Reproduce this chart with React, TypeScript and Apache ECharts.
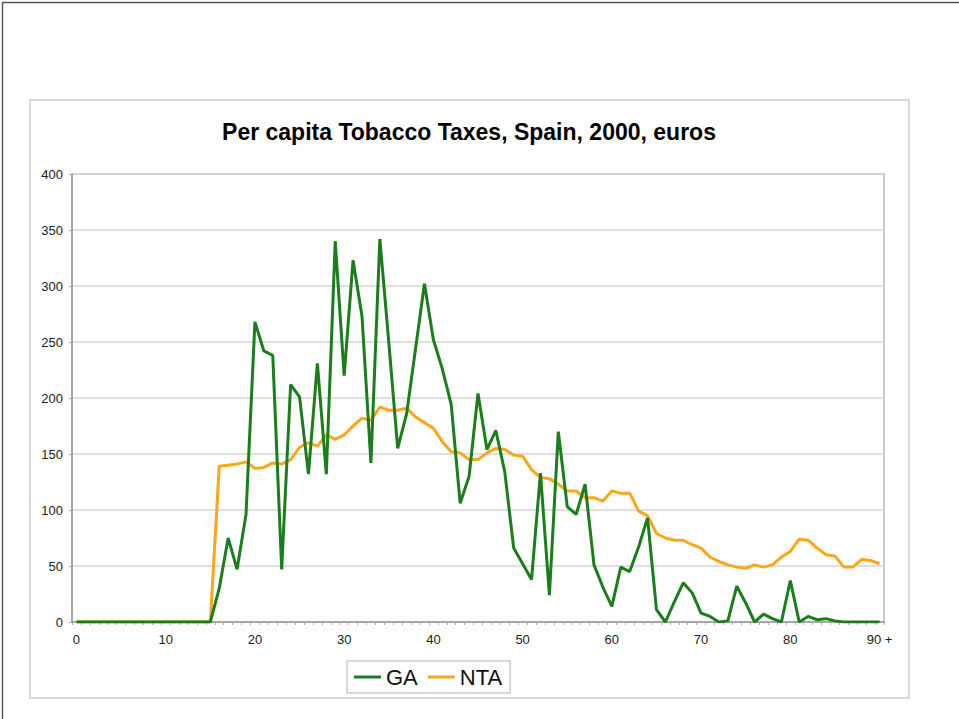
import React, { useEffect, useRef } from "react";
import * as echarts from "echarts";

const categories: string[] = Array.from({ length: 91 }, (_, i) => (i === 90 ? "90 +" : String(i)));

const gaValues: number[] = [
  0, 0, 0, 0, 0, 0, 0, 0, 0, 0,
  0, 0, 0, 0, 0, 0, 30, 75, 47, 96,
  268, 242, 238, 47, 212, 201, 132, 231, 132, 340,
  220, 323, 273, 142, 342, 250, 155, 186, 244, 302,
  252, 226, 194, 106, 130, 204, 154, 171, 134, 66,
  52, 38, 133, 24, 170, 103, 96, 123, 51, 31,
  14, 49, 45, 67, 93, 11, 0, 18, 35, 26,
  8, 5, 0, 1, 32, 17, 0, 7, 3, 0,
  37, 0, 5, 2, 3, 1, 0, 0, 0, 0,
  0,
];

const ntaValues: number[] = [
  0, 0, 0, 0, 0, 0, 0, 0, 0, 0,
  0, 0, 0, 0, 0, 0, 139, 140, 141, 143,
  137, 138, 142, 141, 145, 156, 160, 157, 167, 163,
  167, 175, 182, 180, 192, 189, 189, 191, 183, 178,
  173, 161, 152, 151, 145, 145, 151, 155, 154, 149,
  148, 136, 129, 128, 123, 117, 117, 111, 111, 108,
  117, 115, 115, 99, 95, 79, 75, 73, 73, 69,
  66, 58, 54, 51, 49, 48, 51, 49, 51, 58,
  63, 74, 73, 66, 60, 59, 49, 49, 56, 55,
  52,
];

const seriesNames = ["GA", "NTA"];
const titleText = "Per capita Tobacco Taxes, Spain, 2000, euros";
const FONT = "'Liberation Sans', Arial, Helvetica, sans-serif";

export default function App() {
  const ref = useRef<HTMLDivElement>(null);

  useEffect(() => {
    if (!ref.current) return;
    const chart = echarts.init(ref.current, null, { renderer: "svg" });
    chart.setOption({
      animation: false,
      backgroundColor: "#ffffff",
      textStyle: { fontFamily: FONT },
      graphic: [
        {
          type: "rect",
          z: -1,
          shape: { x: 30, y: 100, width: 879, height: 598 },
          style: { fill: "none", stroke: "#d9d9d9", lineWidth: 2 },
        },
        {
          type: "line",
          shape: { x1: 2, y1: 2.5, x2: 959, y2: 2.5 },
          style: { stroke: "#555555", lineWidth: 1.5 },
        },
        {
          type: "line",
          shape: { x1: 2.5, y1: 2, x2: 2.5, y2: 719 },
          style: { stroke: "#555555", lineWidth: 1.5 },
        },
        {
          type: "text",
          x: 469,
          y: 132,
          style: {
            text: titleText,
            fontFamily: FONT,
            fontSize: 23,
            fontWeight: "bold",
            fill: "#000000",
            align: "center",
            verticalAlign: "middle",
          },
        },
      ],
      legend: {
        data: seriesNames,
        left: 347,
        top: 661,
        orient: "horizontal",
        icon: "rect",
        itemWidth: 27,
        itemHeight: 3,
        itemGap: 10,
        padding: [5, 8, 5, 7],
        borderColor: "#cccccc",
        borderWidth: 1.5,
        textStyle: { fontSize: 22, color: "#111111", fontFamily: FONT, lineHeight: 22 },
      },
      grid: {
        left: 72,
        right: 75,
        top: 174,
        bottom: 97,
        show: true,
        borderColor: "#bbbbbb",
        borderWidth: 1.5,
        containLabel: false,
      },
      xAxis: {
        type: "category",
        data: categories,
        boundaryGap: true,
        axisLine: { show: true, lineStyle: { color: "#999999", width: 1.5 } },
        axisTick: { show: true, interval: 0, length: 3, lineStyle: { color: "#aaaaaa" } },
        axisLabel: {
          interval: (index: number) => index % 10 === 0,
          fontSize: 13,
          color: "#222222",
          margin: 11,
          fontFamily: FONT,
        },
        splitLine: { show: false },
      },
      yAxis: {
        type: "value",
        min: 0,
        max: 400,
        interval: 50,
        axisLine: { show: true, lineStyle: { color: "#999999", width: 1.5 } },
        axisTick: { show: true, length: 3, lineStyle: { color: "#aaaaaa" } },
        axisLabel: { fontSize: 13, color: "#222222", margin: 9, fontFamily: FONT },
        splitLine: { show: true, lineStyle: { color: "#d6d6d6", width: 1.5 } },
      },
      series: [
        {
          name: seriesNames[0],
          type: "line",
          data: gaValues,
          symbol: "none",
          color: "#1b7d1b",
          lineStyle: { width: 3, color: "#1b7d1b" },
          z: 3,
        },
        {
          name: seriesNames[1],
          type: "line",
          data: ntaValues,
          symbol: "none",
          color: "#fca61c",
          lineStyle: { width: 3, color: "#fca61c" },
          z: 2,
        },
      ],
    });
    return () => chart.dispose();
  }, []);

  return (
    <div
      ref={ref}
      style={{ position: "fixed", left: 0, top: 0, width: 959, height: 719 }}
    />
  );
}
